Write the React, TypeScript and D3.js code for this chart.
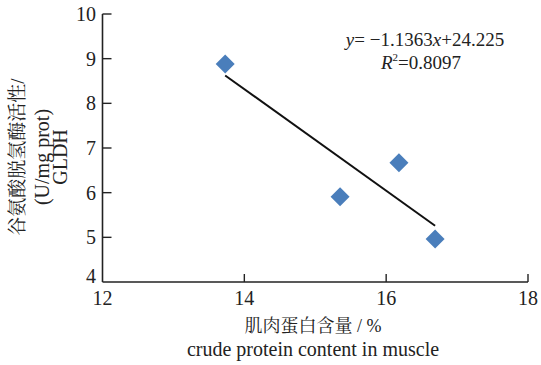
import React from "react";
import * as d3 from "d3";

const proteinX = [13.73, 15.35, 16.18, 16.69];
const gldhY = [8.88, 5.91, 6.67, 4.96];
const xTicks = [12, 14, 16, 18];
const yTicks = [4, 5, 6, 7, 8, 9, 10];
const slope = -1.1363;
const intercept = 24.225;
const eqLine1 = ["y", "= −1.1363", "x", "+24.225"];
const eqR2 = "0.8097";
const xTitleCn = "肌肉蛋白含量 / %";
const xTitleEn = "crude protein content in muscle";
const yTitleLines = ["谷氨酸脱氢酶活性/", "(U/mg prot)", "GLDH"];

const W = 541;
const H = 365;
const serif = "Times New Roman, Liberation Serif, Times, DejaVu Serif, serif";
const cjk = "Times New Roman, Liberation Serif, Noto Serif CJK SC, Noto Sans CJK SC, serif";

export default function App() {
  const x = d3.scaleLinear().domain([12, 18]).range([102.5, 528]);
  const y = d3.scaleLinear().domain([4, 10]).range([282, 14]);
  const x0 = d3.min(proteinX) as number;
  const x1 = d3.max(proteinX) as number;
  const fit = d3
    .line<number>()
    .x((d) => x(d))
    .y((d) => y(slope * d + intercept));
  const diamond = d3.symbol().type(d3.symbolDiamond2 || d3.symbolDiamond).size(230)();
  const axisColor = "#222";
  return (
    <svg
      width={W}
      height={H}
      style={{ position: "absolute", left: 0, top: 0, background: "#fff" }}
    >
      {/* axes */}
      <line x1={x(12)} x2={x(18)} y1={y(4)} y2={y(4)} stroke={axisColor} strokeWidth={1.6} />
      <line x1={x(12)} x2={x(12)} y1={y(4)} y2={y(10)} stroke={axisColor} strokeWidth={1.6} />
      {xTicks.map((t) => (
        <g key={"xt" + t}>
          {t !== 12 && (
            <line x1={x(t)} x2={x(t)} y1={y(4)} y2={y(4) - 8} stroke={axisColor} strokeWidth={1.4} />
          )}
          <text x={x(t)} y={305} textAnchor="middle" style={{ fontFamily: serif }} fontSize={20} fill="#222">
            {t}
          </text>
        </g>
      ))}
      {yTicks.map((t) => (
        <g key={"yt" + t}>
          {t !== 4 && (
            <line x1={x(12)} x2={x(12) + 9} y1={y(t)} y2={y(t)} stroke={axisColor} strokeWidth={1.4} />
          )}
          <text
            x={96}
            y={t === 4 ? y(t) + 1 : y(t) + 7}
            textAnchor="end"
            style={{ fontFamily: serif }}
            fontSize={20}
            fill="#222"
          >
            {t}
          </text>
        </g>
      ))}
      {/* regression line */}
      <path d={fit([x0, x1]) || ""} stroke="#111" strokeWidth={2} fill="none" />
      {/* points */}
      {proteinX.map((px, i) => (
        <path
          key={"p" + i}
          d={diamond || ""}
          transform={`translate(${x(px)},${y(gldhY[i])})`}
          fill="#4a7ebb"
        />
      ))}
      {/* equation */}
      <text x={425} y={46} textAnchor="middle" style={{ fontFamily: serif }} fontSize={19} fill="#222">
        <tspan fontStyle="italic">{eqLine1[0]}</tspan>
        <tspan>{eqLine1[1]}</tspan>
        <tspan fontStyle="italic">{eqLine1[2]}</tspan>
        <tspan>{eqLine1[3]}</tspan>
      </text>
      <text x={421} y={69} textAnchor="middle" style={{ fontFamily: serif }} fontSize={19} fill="#222">
        <tspan fontStyle="italic">R</tspan>
        <tspan fontSize={11} dy={-8}>2</tspan>
        <tspan dy={8}>{"=" + eqR2}</tspan>
      </text>
      {/* x title */}
      <text x={313} y={332} textAnchor="middle" style={{ fontFamily: cjk }} fontSize={18} fill="#222">
        {xTitleCn}
      </text>
      <text x={313} y={356} textAnchor="middle" style={{ fontFamily: serif }} fontSize={20} fill="#222">
        {xTitleEn}
      </text>
      {/* y title */}
      {yTitleLines.map((s, i) => {
        const cx = [17, 42, 60][i];
        return (
          <text
            key={"yl" + i}
            transform={`translate(${cx},157) rotate(-90)`}
            textAnchor="middle"
            dominantBaseline="central"
            style={{ fontFamily: i === 0 ? cjk : serif }}
            fontSize={i === 0 ? 19 : 20}
            fill="#222"
          >
            {s}
          </text>
        );
      })}
    </svg>
  );
}
